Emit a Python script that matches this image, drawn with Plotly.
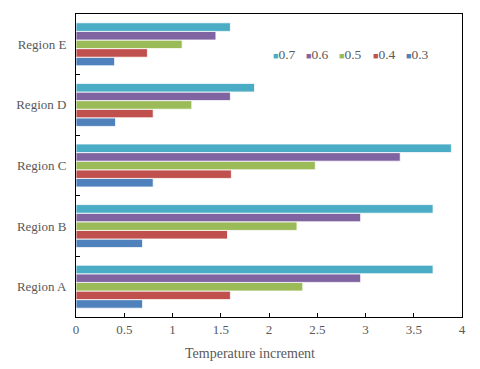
import plotly.graph_objects as go

regions = ["Region A", "Region B", "Region C", "Region D", "Region E"]
series_names = ["0.3", "0.4", "0.5", "0.6", "0.7"]
v03 = [0.69, 0.69, 0.80, 0.41, 0.40]
v04 = [1.60, 1.57, 1.61, 0.80, 0.74]
v05 = [2.35, 2.29, 2.48, 1.20, 1.10]
v06 = [2.95, 2.95, 3.36, 1.60, 1.45]
v07 = [3.70, 3.70, 3.89, 1.85, 1.60]
values = [v03, v04, v05, v06, v07]
colors = ["#4F81BD", "#C0504D", "#9BBB59", "#8064A2", "#4BACC6"]
x_ticks = [0, 0.5, 1, 1.5, 2, 2.5, 3, 3.5, 4]
x_tick_text = ["0", "0.5", "1", "1.5", "2", "2.5", "3", "3.5", "4"]
x_title = "Temperature increment"

font_family = "Liberation Serif"
fig = go.Figure()
for name, vals, col in zip(series_names, values, colors):
    fig.add_trace(go.Bar(
        y=regions, x=vals, name=name, orientation="h",
        marker=dict(color=col, line=dict(color="white", width=0.8)),
        showlegend=False,
    ))

# compact legend drawn as text (order 0.7 ... 0.3)
leg_x0 = 0.505
leg_step = 0.086
for i, (name, col) in enumerate(reversed(list(zip(series_names, colors)))):
    fig.add_annotation(
        xref="paper", yref="paper", x=leg_x0 + i * leg_step, y=0.865,
        xanchor="left", yanchor="middle", showarrow=False,
        text=f"<span style='color:{col};font-size:9px'>■</span>{name}",
        font=dict(family=font_family, size=13.5, color="#595959"),
    )

fig.add_annotation(
    xref="paper", yref="paper", x=0.45, y=-0.119,
    xanchor="center", yanchor="middle", showarrow=False,
    text=x_title, font=dict(family=font_family, size=14, color="#595959"),
)

fig.update_layout(
    width=480, height=369,
    barmode="group", bargap=0.29, bargroupgap=0,
    plot_bgcolor="white", paper_bgcolor="white",
    margin=dict(l=68, r=26, t=6, b=60),
    font=dict(family=font_family, size=13, color="#595959"),
    showlegend=False,
    xaxis=dict(range=[0, 4], tickvals=x_ticks, ticktext=x_tick_text,
               ticks="inside", ticklen=4, tickcolor="black",
               showline=True, linecolor="black", linewidth=1, mirror=True,
               showgrid=False, zeroline=False),
    yaxis=dict(ticks="inside", ticklen=4, tickcolor="black", tickson="boundaries",
               showline=True, linecolor="black", linewidth=1, mirror=True,
               showgrid=False, zeroline=False, ticklabelstandoff=6),
)
fig.write_html("out.html")
